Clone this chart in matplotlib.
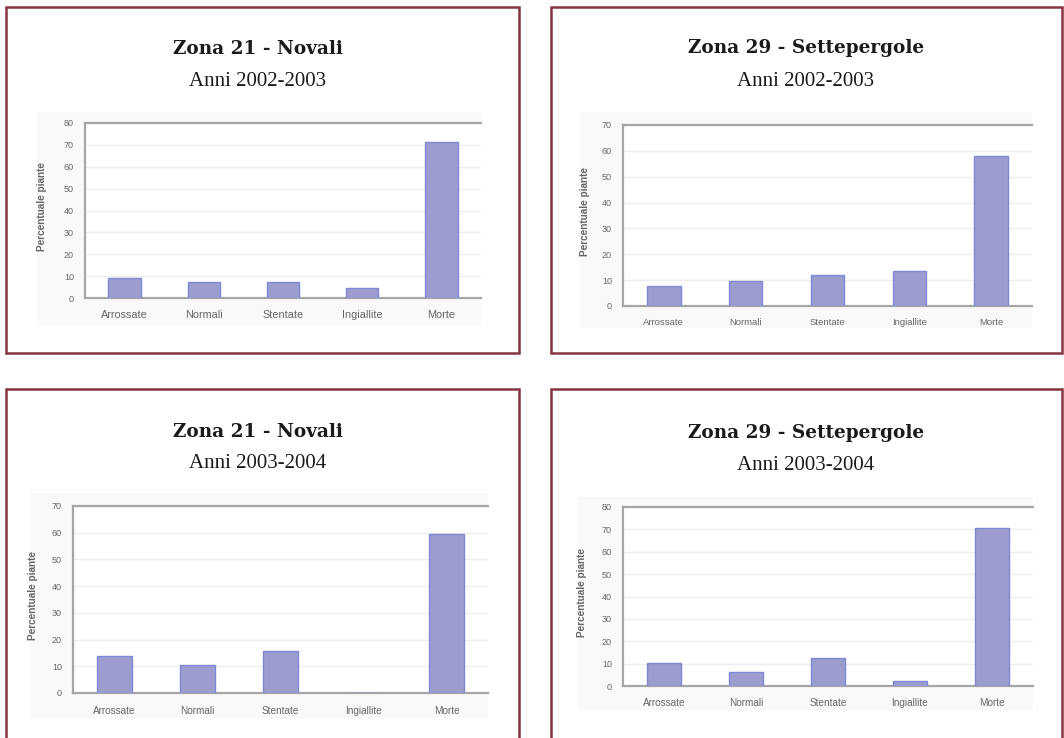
import matplotlib
matplotlib.use("Agg")
import matplotlib.pyplot as plt
from matplotlib.patches import Rectangle

categories = ["Arrossate", "Normali", "Stentate", "Ingiallite", "Morte"]

titles = ["Zona 21 - Novali", "Zona 29 - Settepergole",
          "Zona 21 - Novali", "Zona 29 - Settepergole"]
subtitles = ["Anni 2002-2003", "Anni 2002-2003", "Anni 2003-2004", "Anni 2003-2004"]

values_z21_0203 = [9.2, 7.2, 7.2, 4.4, 71.2]
values_z29_0203 = [7.8, 9.8, 11.8, 13.6, 58.1]
values_z21_0304 = [13.9, 10.5, 15.7, 0.0, 59.7]
values_z29_0304 = [10.1, 6.3, 12.5, 2.4, 70.7]
series = [values_z21_0203, values_z29_0203, values_z21_0304, values_z29_0304]

ymax = [80, 70, 70, 80]
ylabel = "Percentuale piante"

W, H = 1064, 738
fig = plt.figure(figsize=(W / 100, H / 100), dpi=100)
fig.patch.set_facecolor("white")

def fx(x):
    return x / W

def fy(y):
    return 1 - y / H

border_col = "#84343f"
# panel boxes: (left, top, right, bottom) in pixels
boxes = [(6, 7, 519, 353), (551, 7, 1062, 353), (6, 389, 519, 745), (551, 389, 1062, 745)]
for (l, t, r, b) in boxes:
    fig.add_artist(Rectangle((fx(l), fy(b)), fx(r) - fx(l), fy(t) - fy(b),
                             transform=fig.transFigure, fill=False,
                             edgecolor=border_col, linewidth=1.8, clip_on=False))

# title positions (center x, title y, subtitle y)
title_pos = [(258, 49, 81), (806, 48, 82), (258, 432, 463), (806, 433, 465)]
# chart image backgrounds (left, top, right, bottom)
img_bg = [(37, 112, 481, 325), (580, 112, 1032, 328), (30, 493, 488, 718), (578, 497, 1033, 710)]
# axes (left, top, right, bottom)
axes_px = [(85, 123, 481, 298), (623, 125, 1032, 306), (73, 506, 488, 693), (623, 507, 1033, 686)]
ylab_x = [42, 585, 33, 582]
xlab_fs = [7.8, 6.8, 7.2, 7.2]

for i in range(4):
    cx, ty, sy = title_pos[i]
    fig.text(fx(cx), fy(ty), titles[i], ha="center", va="center",
             family="DejaVu Serif", fontweight="bold", fontsize=13.3, color="#1a1a1a")
    fig.text(fx(cx), fy(sy), subtitles[i], ha="center", va="center",
             family="Liberation Serif", fontsize=15, color="#1a1a1a")

    l, t, r, b = img_bg[i]
    fig.add_artist(Rectangle((fx(l), fy(b)), fx(r) - fx(l), fy(t) - fy(b),
                             transform=fig.transFigure, facecolor="#f9f9f9",
                             edgecolor="none", zorder=0))

    l, t, r, b = axes_px[i]
    ax = fig.add_axes([fx(l), fy(b), fx(r) - fx(l), fy(t) - fy(b)])
    ax.set_facecolor("white")
    x = list(range(len(categories)))
    ax.bar(x, series[i], width=0.41, color="#9c9ccf", edgecolor="#7f88d2",
           linewidth=1.0, zorder=3)
    ax.set_xlim(-0.5, len(categories) - 0.5)
    ax.set_ylim(0, ymax[i])
    ax.set_yticks(range(0, ymax[i] + 1, 10))
    ax.set_xticks(x)
    ax.set_xticklabels(categories)
    ax.yaxis.grid(True, color="#eeeeee", linewidth=1.0, zorder=0)
    ax.set_axisbelow(True)
    for s in ["top", "left", "bottom"]:
        ax.spines[s].set_color("#a6a6a6")
        ax.spines[s].set_linewidth(1.6)
    ax.spines["right"].set_visible(False)
    ax.tick_params(axis="both", length=0, colors="#666666")
    ax.tick_params(axis="x", labelsize=xlab_fs[i], pad=9)
    ax.tick_params(axis="y", labelsize=6.5, pad=8)
    for lab in ax.get_xticklabels() + ax.get_yticklabels():
        lab.set_family("Liberation Sans")

    fig.text(fx(ylab_x[i]), (fy(t) + fy(b)) / 2 + 0.005, ylabel, rotation=90,
             ha="center", va="center", family="Liberation Sans",
             fontweight="bold", fontsize=7.2, color="#666666")

fig.savefig("out.png", dpi=100, facecolor="white")
